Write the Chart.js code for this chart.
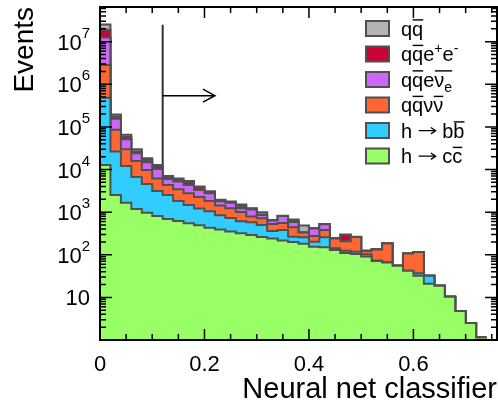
<!DOCTYPE html>
<html>
<head>
<meta charset="utf-8">
<script src="https://cdn.jsdelivr.net/npm/chart.js@4.4.1/dist/chart.umd.min.js"></script>
<style>
  html, body { margin: 0; padding: 0; background: #fff; }
  canvas { display: block; }
</style>
</head>
<body>
<canvas id="nnChart" width="498" height="407"></canvas>
<script>
// lower edges of the classifier bins (width 0.02), last bin 0.74-0.76 is empty
const binLow = [0.00, 0.02, 0.04, 0.06, 0.08, 0.10, 0.12, 0.14, 0.16, 0.18,
                0.20, 0.22, 0.24, 0.26, 0.28, 0.30, 0.32, 0.34, 0.36, 0.38,
                0.40, 0.42, 0.44, 0.46, 0.48, 0.50, 0.52, 0.54, 0.56, 0.58,
                0.60, 0.62, 0.64, 0.66, 0.68, 0.70, 0.72];
const binWidth = 0.02;

// events per bin, bottom of the stack first
const hcc = [12800, 2540, 1670, 1190, 970, 810, 690, 620, 550, 490,
             430, 390, 350, 320, 290, 260, 240, 217, 200, 181,
             155, 150, 130, 110, 104, 91, 71, 66, 55, 42,
             32, 21, 18.8, 10.4, 4.8, 2.5, 1.15];
const hbb = [467000, 23800, 10500, 5510, 3620, 2330, 1840, 1210, 930, 735,
             620, 450, 380, 295, 290, 240, 120, 165, 66, 76,
             48, 107, 12, 15, 14, 12, 2, 0.5, 0, 0,
             5, 11, 0, 0, 0, 0, 0];
const qqvv = [2370000, 58800, 17800, 9220, 5200, 3040, 1820, 1620, 1300, 1050,
              780, 600, 500, 395, 215, 220, 165, 175, 176, 77,
              73, 125, 99, 82, 144, 20, 60, 118, 0, 65,
              79, 0, 0, 0, 0, 0, 0];
const qqev = [9630000, 69100, 21500, 8230, 5040, 4150, 1670, 1750, 1570, 1045,
              950, 350, 430, 225, 365, 140, 110, 255, 147, 0,
              138, 138, 0, 0, 0, 0, 0, 0, 0, 0,
              0, 0, 0, 0, 0, 0, 0];
const qqee = [6440000, 20400, 6800, 2150, 1970, 1370, 440, 500, 575, 480,
              200, 100, 75, 165, 45, 25, 8, 5, 67, 0,
              2, 3, 2, 85, 0, 0, 0, 0, 0, 0,
              0, 0, 0, 0, 0, 0, 0];
const qq = [6280000, 21900, 6700, 3640, 1620, 1120, 620, 480, 475, 210,
            115, 50, 30, 120, 35, 110, 8, 8, 18, 153,
            3, 3, 2, 8, 3, 3, 2, 2, 0, 0,
            0, 0, 0, 0, 0, 0, 0];

const xLabelTicks = [0, 0.2, 0.4, 0.6];
const yDecades = [1, 2, 3, 4, 5, 6, 7];

// cut and arrow annotation (data units)
const cutValue = 0.12;
const cutTop = 2.5e7;
const arrowEnd = 0.22;
const arrowLevel = 5.4e5;

const FAMILY = '"Liberation Sans", Arial, Helvetica, sans-serif';
const OUTLINE = '#505050';

const layers = [
  { name: 'h → cc̄', values: hcc, color: '#99ff66' },
  { name: 'h → bb̄', values: hbb, color: '#33ccff' },
  { name: 'qq̄νν̄', values: qqvv, color: '#ff6633' },
  { name: 'qq̄eν̄e', values: qqev, color: '#cc66ff' },
  { name: 'qq̄e+e-', values: qqee, color: '#cc0033' },
  { name: 'qq̄', values: qq, color: '#b3b3b3' }
];

// legend rows, top to bottom; bar = overline, arrow = long right arrow
const legendRows = [
  { color: '#b3b3b3', tokens: [{t: 'q'}, {t: 'q', bar: true}] },
  { color: '#cc0033', tokens: [{t: 'q'}, {t: 'q', bar: true}, {t: 'e', sup: '+'}, {t: 'e', sup: '-'}] },
  { color: '#cc66ff', tokens: [{t: 'q'}, {t: 'q', bar: true}, {t: 'e'}, {t: 'ν', bar: true, sub: 'e'}] },
  { color: '#ff6633', tokens: [{t: 'q'}, {t: 'q', bar: true}, {t: 'ν'}, {t: 'ν', bar: true}] },
  { color: '#33ccff', tokens: [{t: 'h '}, {arrow: true}, {t: ' b'}, {t: 'b', bar: true}] },
  { color: '#99ff66', tokens: [{t: 'h '}, {arrow: true}, {t: ' c'}, {t: 'c', bar: true}] }
];

// stacked outlines: running sums of the layers
let running = binLow.map(() => 0);
const datasets = layers.map((layer, k) => {
  running = running.map((s, i) => s + layer.values[i]);
  const pts = binLow.map((x, i) => ({ x: x, y: running[i] }));
  pts.push({ x: binLow[binLow.length - 1] + binWidth, y: running[running.length - 1] });
  return {
    label: layer.name,
    data: pts,
    stepped: true,
    borderColor: OUTLINE,
    borderWidth: 2,
    backgroundColor: layer.color,
    fill: k === 0 ? 'start' : '-1',
    pointRadius: 0,
    tension: 0
  };
});

function drawRich(ctx, tokens, x, base, size) {
  for (const tk of tokens) {
    if (tk.arrow) {
      const w = size * 0.95;
      const ay = base - size * 0.34;
      ctx.beginPath();
      ctx.lineWidth = 1.3;
      ctx.moveTo(x + 1, ay);
      ctx.lineTo(x + w - 1, ay);
      ctx.moveTo(x + w - 1 - size * 0.24, ay - size * 0.16);
      ctx.lineTo(x + w - 1, ay);
      ctx.lineTo(x + w - 1 - size * 0.24, ay + size * 0.16);
      ctx.stroke();
      x += w;
      continue;
    }
    ctx.font = size + 'px ' + FAMILY;
    ctx.fillText(tk.t, x, base);
    const w = ctx.measureText(tk.t).width;
    let wt = w;
    const small = Math.round(size * 0.68);
    if (tk.sub) {
      ctx.font = small + 'px ' + FAMILY;
      ctx.fillText(tk.sub, x + w, base + size * 0.28);
      wt = w + ctx.measureText(tk.sub).width;
    }
    if (tk.sup) {
      ctx.font = small + 'px ' + FAMILY;
      ctx.fillText(tk.sup, x + w, base - size * 0.42);
      wt = w + ctx.measureText(tk.sup).width;
    }
    if (tk.bar) {
      ctx.beginPath();
      ctx.lineWidth = 1.4;
      ctx.moveTo(x + 0.5, base - size * 0.78);
      ctx.lineTo(x + wt, base - size * 0.78);
      ctx.stroke();
    }
    x += wt;
  }
}

const rootStyle = {
  id: 'rootStyle',
  beforeDatasetsDraw(chart) {
    const { ctx, scales: { x, y } } = chart;
    ctx.save();
    ctx.strokeStyle = '#333';
    ctx.lineWidth = 2;
    ctx.beginPath();
    ctx.moveTo(x.getPixelForValue(cutValue), y.getPixelForValue(1));
    ctx.lineTo(x.getPixelForValue(cutValue), y.getPixelForValue(cutTop));
    ctx.stroke();
    ctx.restore();
  },
  afterDatasetsDraw(chart) {
    const { ctx, chartArea: a, scales: { x, y } } = chart;
    ctx.save();
    ctx.strokeStyle = '#000';
    ctx.fillStyle = '#000';

    // arrow
    const ax0 = x.getPixelForValue(cutValue);
    const ax1 = x.getPixelForValue(arrowEnd);
    const ay = y.getPixelForValue(arrowLevel);
    ctx.lineWidth = 1.5;
    ctx.beginPath();
    ctx.moveTo(ax0, ay);
    ctx.lineTo(ax1, ay);
    ctx.moveTo(ax1 - 12, ay - 6.5);
    ctx.lineTo(ax1, ay);
    ctx.lineTo(ax1 - 12, ay + 6.5);
    ctx.stroke();

    // ticks pointing into the frame
    ctx.lineWidth = 1.5;
    ctx.beginPath();
    for (let k = 0; k <= 15; k++) {
      const px = x.getPixelForValue(k * 0.05);
      const len = k % 4 === 0 ? 11 : 6;
      ctx.moveTo(px, a.bottom);
      ctx.lineTo(px, a.bottom - len);
      ctx.moveTo(px, a.top);
      ctx.lineTo(px, a.top + len);
    }
    for (let d = 0; d <= 7; d++) {
      for (let m = 1; m <= 9; m++) {
        const v = m * Math.pow(10, d);
        if (v < y.min || v > y.max) continue;
        const py = y.getPixelForValue(v);
        const len = m === 1 ? 12 : 6;
        ctx.moveTo(a.left, py);
        ctx.lineTo(a.left + len, py);
        ctx.moveTo(a.right, py);
        ctx.lineTo(a.right - len, py);
      }
    }
    ctx.stroke();

    // frame
    ctx.lineWidth = 2;
    ctx.strokeRect(a.left, a.top, a.right - a.left, a.bottom - a.top);

    // y labels 10, 10^2 ... 10^7
    ctx.textBaseline = 'middle';
    ctx.textAlign = 'left';
    for (const k of yDecades) {
      const py = y.getPixelForValue(Math.pow(10, k));
      ctx.font = '22px ' + FAMILY;
      const wb = ctx.measureText('10').width;
      let ws = 0;
      if (k > 1) {
        ctx.font = '15px ' + FAMILY;
        ws = ctx.measureText(String(k)).width;
      }
      const x0 = 90 - wb - ws;
      ctx.font = '22px ' + FAMILY;
      ctx.fillText('10', x0, py + 2);
      if (k > 1) {
        ctx.font = '15px ' + FAMILY;
        ctx.fillText(String(k), x0 + wb, py - 8);
      }
    }

    // legend
    ctx.textBaseline = 'alphabetic';
    legendRows.forEach((row, i) => {
      const yc = 28.5 + 25.5 * i;
      ctx.fillStyle = row.color;
      ctx.fillRect(366, yc - 7.5, 23, 15);
      ctx.strokeStyle = OUTLINE;
      ctx.lineWidth = 2;
      ctx.strokeRect(366, yc - 7.5, 23, 15);
      ctx.fillStyle = '#000';
      ctx.strokeStyle = '#000';
      drawRich(ctx, row.tokens, 401, yc + 7, 20);
    });
    ctx.restore();
  }
};

Chart.defaults.font.family = FAMILY;

new Chart(document.getElementById('nnChart'), {
  type: 'line',
  data: { datasets: datasets },
  options: {
    responsive: false,
    animation: false,
    layout: { padding: { top: 7, right: 1, left: 0, bottom: 0 } },
    plugins: {
      legend: { display: false },
      tooltip: { enabled: false }
    },
    scales: {
      x: {
        type: 'linear',
        min: 0,
        max: 0.76,
        grid: { display: false, drawTicks: false },
        border: { display: false },
        afterBuildTicks: s => { s.ticks = xLabelTicks.map(v => ({ value: v })); },
        afterFit: s => { s.height = 67; },
        ticks: {
          color: '#000',
          font: { size: 22 },
          padding: 12,
          maxRotation: 0,
          autoSkip: false,
          callback: v => v === 0 ? '0' : v.toFixed(1)
        },
        title: {
          display: true,
          text: 'Neural net classifier',
          align: 'end',
          color: '#000',
          font: { size: 29 },
          padding: { top: 0, bottom: 0 }
        }
      },
      y: {
        type: 'logarithmic',
        min: 1,
        max: 6.5e7,
        grid: { display: false, drawTicks: false },
        border: { display: false },
        ticks: { display: false },
        afterFit: s => { s.width = 100; },
        title: {
          display: true,
          text: 'Events',
          align: 'end',
          color: '#000',
          font: { size: 28 },
          padding: { top: 8, bottom: 0 }
        }
      }
    }
  },
  plugins: [rootStyle]
});
</script>
</body>
</html>
